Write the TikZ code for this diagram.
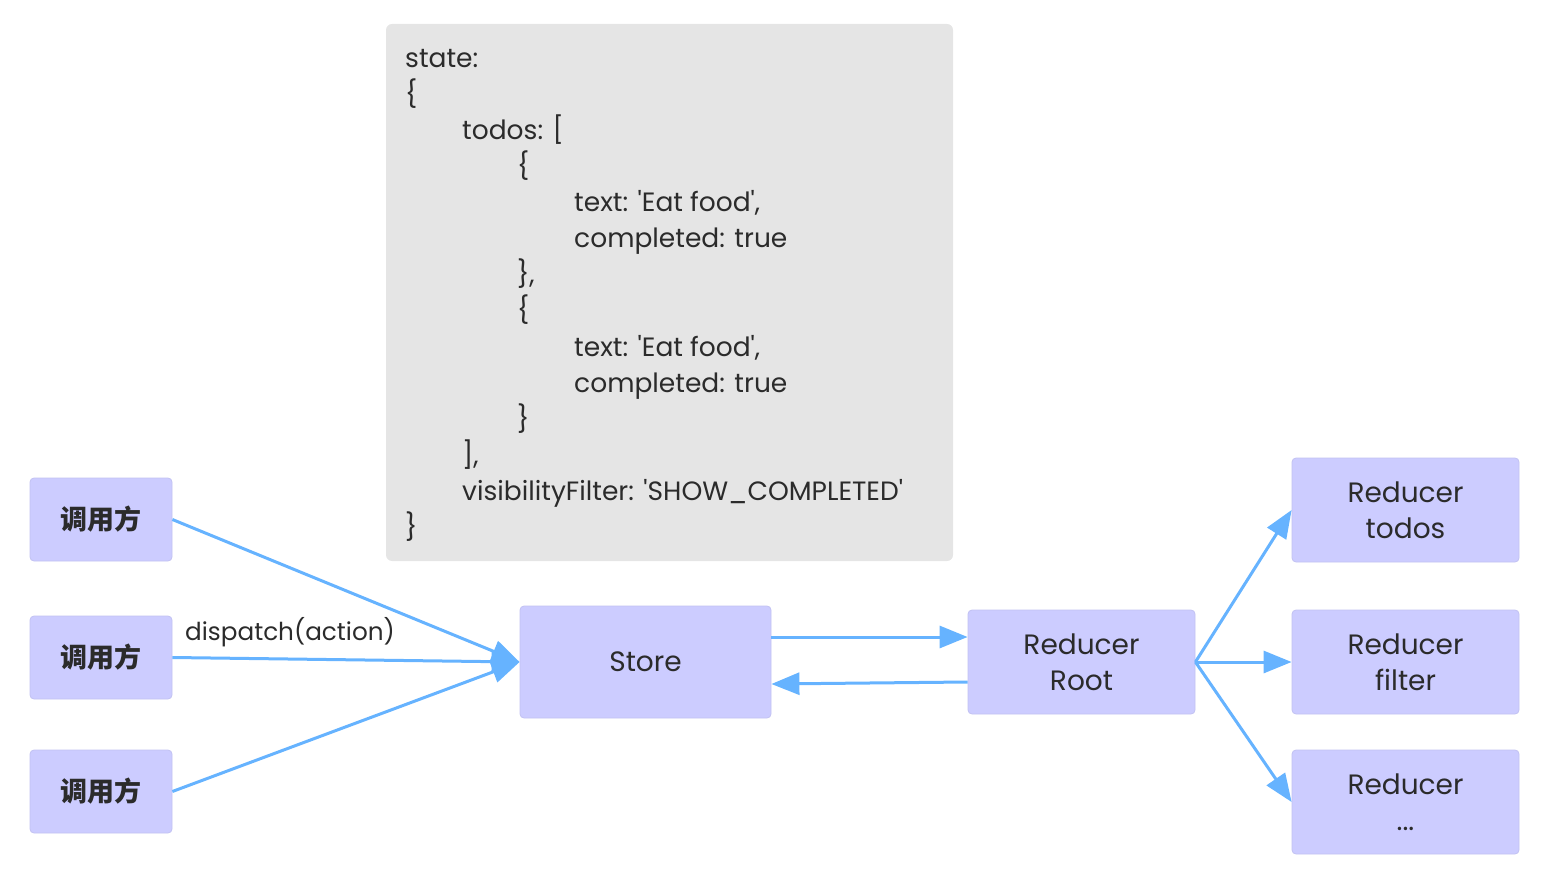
\documentclass[tikz,border=0pt]{standalone}
\usepackage{fontspec}
\setmainfont{Poppins}
\newfontfamily\cjk{Noto Sans CJK SC}
\usetikzlibrary{arrows.meta}
\definecolor{boxfill}{HTML}{CCCCFF}
\definecolor{boxedge}{HTML}{C2C2F2}
\definecolor{codebg}{HTML}{E5E5E5}
\definecolor{arrowc}{HTML}{66B3FF}
\definecolor{txt}{HTML}{2B2B2B}
\newcommand{\sq}{\textquotesingle}
\tikzset{
  blk/.style={fill=boxfill, draw=boxedge, line width=0.8pt, rounded corners=4pt, inner sep=0pt,
    text=txt, align=center, font=\fontsize{28}{36}\selectfont},
  caller/.style={blk, minimum width=142pt, minimum height=83pt, font=\cjk\bfseries\fontsize{27}{30}\selectfont},
  codeln/.style={anchor=base west, inner sep=0pt, text=txt, font=\fontsize{26.5}{30}\selectfont},
  conn/.style={draw=arrowc, line width=3pt, -{Triangle[length=28pt,width=22pt]}},
}
\begin{document}
\begin{tikzpicture}[x=1pt,y=-1pt]
\useasboundingbox (0,0) rectangle (1544,890);
% code box
\node[fill=codebg, rounded corners=6pt, minimum width=567pt, minimum height=537pt, inner sep=0pt] (code) at (669.5,292.5) {};
\node[codeln] (c1) at (405,68) {state:};
\node[codeln] (c2) at (405,104) {\{};
\node[codeln] (c3) at (462,140) {todos: [};
\node[codeln] (c4) at (517,176) {\{};
\node[codeln] (c5) at (574,212) {text: \sq Eat food\sq,};
\node[codeln] (c6) at (574,248) {completed: true};
\node[codeln] (c7) at (517,284) {\},};
\node[codeln] (c8) at (517,320) {\{};
\node[codeln] (c9) at (574,356) {text: \sq Eat food\sq,};
\node[codeln] (c10) at (574,392) {completed: true};
\node[codeln] (c11) at (517,428) {\}};
\node[codeln] (c12) at (462,464) {],};
\node[codeln] (c13) at (462,500) {visibilityFilter: \sq SHOW\_COMPLETED\sq};
\node[codeln] (c14) at (405,536) {\}};
% callers
\node[caller] (b1) at (101,519.5) {调用方};
\node[caller] (b2) at (101,657.5) {调用方};
\node[caller] (b3) at (101,791.5) {调用方};
% store and reducers
\node[blk, minimum width=251pt, minimum height=112pt] (store) at (645.5,662) {Store};
\node[blk, minimum width=227pt, minimum height=104pt] (root) at (1081.5,662) {Reducer\\Root};
\node[blk, minimum width=227pt, minimum height=104pt] (todos) at (1405.5,510) {Reducer\\todos};
\node[blk, minimum width=227pt, minimum height=104pt] (filter) at (1405.5,662) {Reducer\\filter};
\node[blk, minimum width=227pt, minimum height=104pt] (dots) at (1405.5,802) {Reducer\\...};
% label
\node[anchor=base west, inner sep=0pt, text=txt, font=\fontsize{24.7}{30}\selectfont] (lbl) at (185,640) {dispatch(action)};
% connectors
\draw[conn] (b1.east) -- (store.west);
\draw[conn] (b2.east) -- (store.west);
\draw[conn] (b3.east) -- (store.west);
\draw[conn] ([yshift=25pt]store.east) -- ([yshift=25pt]root.west);
\draw[conn] ([yshift=-20pt]root.west) -- ([yshift=-22pt]store.east);
\draw[conn] (root.east) -- (todos.west);
\draw[conn] (root.east) -- (filter.west);
\draw[conn] (root.east) -- (dots.west);
\end{tikzpicture}
\end{document}
